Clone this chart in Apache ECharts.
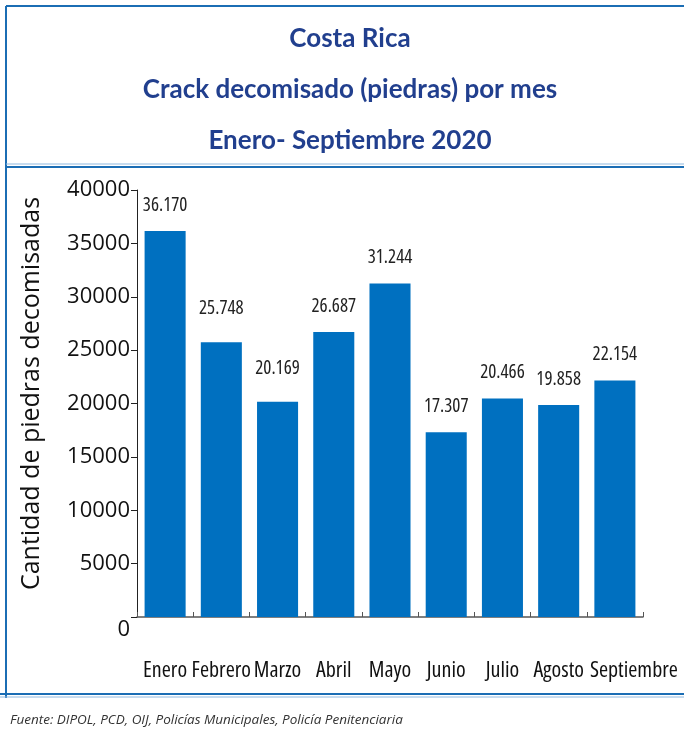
<!DOCTYPE html>
<html>
<head>
<meta charset="utf-8">
<script src="https://cdn.jsdelivr.net/npm/echarts@6/dist/echarts.min.js"></script>
<style>
  html, body { margin: 0; padding: 0; background: #fff; }
  #chart { width: 684px; height: 733px; }
</style>
</head>
<body>
<div id="chart"></div>
<script>
// data
const months = ['Enero', 'Febrero', 'Marzo', 'Abril', 'Mayo', 'Junio', 'Julio', 'Agosto', 'Septiembre']
const seized = [36170, 25748, 20169, 26687, 31244, 17307, 20466, 19858, 22154]
const titleLines = ['Costa Rica', 'Crack decomisado (piedras) por mes', 'Enero- Septiembre 2020']
const yName = 'Cantidad de piedras decomisadas'
const source = 'Fuente: DIPOL, PCD, OIJ, Policías Municipales, Policía Penitenciaria'

const frameBlue = '#1b6db4'
const sans = '"Open Sans", sans-serif'

// thousands with a dot, like the original labels
const fmt = v => String(v).replace(/\B(?=(\d{3})+(?!\d))/g, '.')

// a couple of value labels sit higher above their bars in the original
const labelGap = { 1: 24, 2: 24 }
// Septiembre is pushed right so it doesn't run into Agosto
const lastShift = 19

const chart = echarts.init(document.getElementById('chart'))

chart.setOption({
  animation: false,
  title: [
    {
      text: titleLines.join('\n'),
      left: 345,
      textAlign: 'center',
      top: 8,
      textStyle: {
        color: '#213f8e',
        fontFamily: 'Lato, sans-serif',
        fontWeight: 'bold',
        fontSize: 26,
        lineHeight: 51
      }
    },
    {
      text: source,
      left: 5,
      top: 708,
      textStyle: {
        color: '#333',
        fontFamily: sans,
        fontStyle: 'italic',
        fontWeight: 'normal',
        fontSize: 13.5
      }
    }
  ],
  graphic: [
    { type: 'line', shape: { x1: 6, y1: 6, x2: 684, y2: 6 }, style: { stroke: frameBlue, lineWidth: 2 } },
    { type: 'line', shape: { x1: 6, y1: 6, x2: 6, y2: 698 }, style: { stroke: frameBlue, lineWidth: 2 } },
    { type: 'line', shape: { x1: 6, y1: 164, x2: 684, y2: 164 }, style: { stroke: '#8fb8de', lineWidth: 1 } },
    { type: 'line', shape: { x1: 6, y1: 167, x2: 684, y2: 167 }, style: { stroke: frameBlue, lineWidth: 2 } },
    { type: 'line', shape: { x1: 0, y1: 694, x2: 684, y2: 694 }, style: { stroke: frameBlue, lineWidth: 2 } },
    { type: 'line', shape: { x1: 0, y1: 697, x2: 684, y2: 697 }, style: { stroke: '#8fb8de', lineWidth: 1 } }
  ],
  grid: {
    left: 137,
    right: 41,
    top: 190,
    bottom: 116
  },
  xAxis: {
    type: 'category',
    data: months,
    axisLine: { lineStyle: { color: '#555', width: 1.5 } },
    axisTick: { show: true, inside: true, length: 5, lineStyle: { color: '#555' } },
    axisLabel: {
      margin: 43,
      interval: 0,
      formatter: (v, i) => (i === months.length - 1 ? '{r|' + v + '}' : '{m|' + v + '}'),
      rich: {
        m: { color: '#111', fontFamily: sans, fontWeight: 'condensed', fontSize: 22 },
        r: { color: '#111', fontFamily: sans, fontWeight: 'condensed', fontSize: 22, padding: [0, 0, 0, 2 * lastShift] }
      }
    }
  },
  yAxis: {
    type: 'value',
    min: 0,
    max: 40000,
    interval: 5000,
    name: yName,
    nameLocation: 'middle',
    nameRotate: 90,
    nameGap: 93,
    nameTextStyle: {
      color: '#111',
      fontFamily: sans,
      fontSize: 25,
      padding: [0, 0, 0, 20]
    },
    splitLine: { show: false },
    axisLine: { show: true, lineStyle: { color: '#222', width: 1 } },
    axisTick: { show: true, length: 6, lineStyle: { color: '#222' } },
    axisLabel: {
      margin: 7,
      color: '#111',
      fontFamily: sans,
      fontSize: 22,
      formatter: v => (v === 0 ? '{z|0}' : String(v)),
      rich: {
        z: { fontFamily: sans, fontSize: 22, color: '#111', padding: [26, 0, 0, 0] }
      }
    }
  },
  series: [
    {
      type: 'bar',
      barWidth: '73%',
      itemStyle: { color: '#0070c0' },
      data: seized.map((v, i) => ({
        value: v,
        label: { distance: labelGap[i] || 16 }
      })),
      label: {
        show: true,
        position: 'top',
        color: '#222',
        fontFamily: sans,
        fontWeight: 'condensed',
        fontSize: 19,
        formatter: p => fmt(p.value)
      }
    }
  ]
})
</script>
</body>
</html>
